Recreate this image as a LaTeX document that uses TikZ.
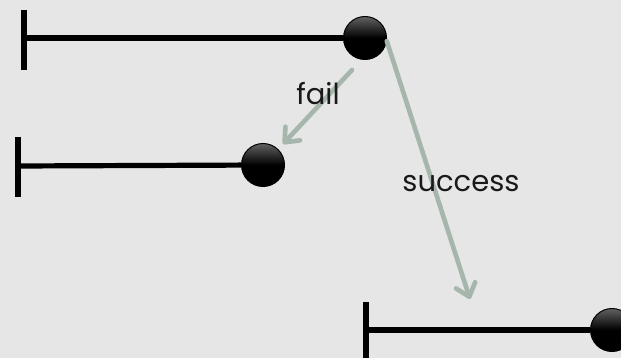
\documentclass[tikz,border=0pt]{standalone}
\usepackage{fontspec}
\setmainfont{Poppins}
\usetikzlibrary{arrows.meta}
\definecolor{bg}{HTML}{E6E6E6}
\definecolor{flow}{HTML}{A6B6AC}
\tikzset{
  ball/.style={circle, minimum size=43pt, inner sep=0pt, draw=black, line width=1pt,
    top color=black!62, bottom color=black, middle color=black, shading angle=0},
  rail/.style={line width=5.2pt, black},
  flowarrow/.style={line width=4.6pt, flow, line cap=round,
    -{Straight Barb[length=12pt, width=20pt, line width=4.6pt, round]}},
  lbl/.style={font=\fontsize{29pt}{31pt}\selectfont, text=black!90}
}
\begin{document}
\begin{tikzpicture}[x=1pt, y=-1pt]
  \fill[bg] (0,0) rectangle (621,358);
  \useasboundingbox (0,0) rectangle (621,358);

  % first track
  \coordinate (t1a) at (24,10);
  \coordinate (t1b) at (24,70);
  \coordinate (t1m) at (24,38);
  \node[ball] (b1) at (365,38) {};
  \draw[rail] (t1a) -- (t1b);
  \draw[rail] (t1m) -- (b1);

  % second track
  \coordinate (t2a) at (18,137);
  \coordinate (t2b) at (18,197);
  \coordinate (t2m) at (18,166);
  \node[ball] (b2) at (263,165) {};
  \draw[rail] (t2a) -- (t2b);
  \draw[rail] (t2m) -- (b2);

  % third track
  \coordinate (t3a) at (366,302);
  \coordinate (t3b) at (366,362);
  \coordinate (t3m) at (366,330);
  \node[ball] (b3) at (612,330) {};
  \draw[rail] (t3a) -- (t3b);
  \draw[rail] (t3m) -- (b3);

  % transitions
  \coordinate (fs) at (352,70);
  \coordinate (ft) at (283,144);
  \coordinate (st) at (470,299);
  \draw[flowarrow] (fs) -- (ft);
  \draw[flowarrow] (b1.-8) -- (st);

  \node[lbl] (lf) at (318,94) {fail};
  \node[lbl] (ls) at (461,184) {success};
\end{tikzpicture}
\end{document}
